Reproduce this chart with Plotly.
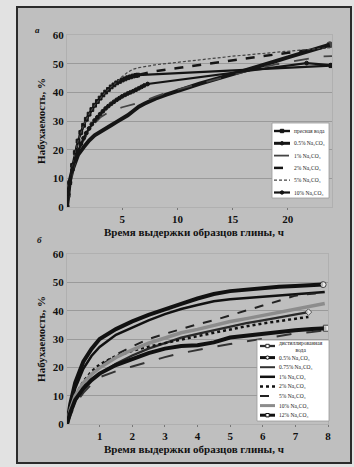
import plotly.graph_objects as go

W, H = 354, 467

# ---------------- panel "а" (hours 0..24) ----------------
t_fresh = [0, 0.1, 0.25, 0.5, 0.75, 1, 1.25, 1.5, 1.75, 2, 2.25, 2.5, 2.75, 3, 3.25, 3.5, 3.75, 4,
           4.25, 4.5, 4.75, 5, 5.25, 5.5, 5.75, 6, 6.25, 6.4, 23.9]
y_fresh = [0, 4, 8.5, 14.5, 19, 23, 26, 28.5, 30.6, 32.4, 34, 35.5, 36.8, 38, 39.1, 40.1, 41, 41.9,
           42.6, 43.3, 43.8, 44.3, 44.7, 45.1, 45.4, 45.7, 45.9, 46, 49.3]

t_a05 = [0, 0.1, 0.25, 0.5, 0.75, 1, 1.5, 2, 2.5, 3, 3.5, 4, 4.5, 5, 5.5, 6, 6.5, 7, 8, 9, 10, 12,
         14, 16, 18, 20, 22, 23.8]
y_a05 = [0, 5, 9, 13, 16, 18.2, 20.8, 23.2, 25, 26.3, 27.4, 28.5, 29.7, 30.8, 32, 33.5, 35, 36,
         37.8, 39.2, 40.5, 43, 45.2, 47.4, 49.8, 52.2, 54.5, 56.6]

t_a1 = [0, 0.5, 1, 1.5, 2, 2.5, 3, 3.5, 3.8, 5, 6.8, 8, 9.3, 11, 13, 15, 17.2, 19, 21, 23, 24]
y_a1 = [0, 12.5, 19, 23.2, 26.5, 29.2, 31.2, 32.6, 33.2, 34.8, 36.7, 38.5, 40.2, 42, 44, 46, 48.3,
        49.8, 51.2, 52.5, 52.6]

t_a2 = [0, 0.25, 0.5, 1, 1.5, 2, 2.5, 3, 3.5, 4, 4.5, 5, 5.5, 6, 6.4, 8, 10.2, 12, 15, 18, 20, 22, 23.8]
y_a2 = [0, 8.5, 14.5, 23, 28.5, 32.4, 35.5, 38, 40.1, 41.9, 43.3, 44.3, 45.1, 45.7, 46, 47.4, 48.6,
        49.6, 51.2, 52.8, 53.8, 54.8, 56]

t_a5 = [0, 0.25, 0.5, 1, 1.5, 2, 2.5, 3, 3.5, 4, 4.5, 5, 5.5, 6, 6.5, 8, 10.2, 12, 15, 19.3, 22, 23.8]
y_a5 = [0, 8.5, 14.5, 23, 28.5, 32.4, 35.5, 38, 40.1, 41.9, 43.5, 45.5, 47, 48.1, 48.6, 49.6, 50.6,
        51.5, 52.6, 54.1, 55, 55.6]

t_a10 = [0, 0.1, 0.25, 0.5, 0.75, 1, 1.25, 1.5, 1.75, 2, 2.25, 2.5, 2.75, 3, 3.25, 3.5, 3.75, 4,
         4.25, 4.5, 4.75, 5, 5.25, 5.5, 5.75, 6, 6.25, 6.5, 6.75, 7, 7.3, 21.7, 23.9]
y_a10 = [0, 4.5, 8.5, 13, 16.8, 19.5, 22, 24, 25.8, 27.4, 28.9, 30.2, 31.3, 32.4, 33.4, 34.4, 35.2,
         36, 36.7, 37.4, 38, 38.6, 39.1, 39.6, 40, 40.4, 40.9, 41.4, 41.9, 42.4, 42.9, 50.2, 49.5]

labels_a = ["пресная вода", "0.5% Na₂CO₃", "1% Na₂CO₃", "2% Na₂CO₃", "5% Na₂CO₃", "10% Na₂CO₃"]

# ---------------- panel "б" (hours 0..8) ----------------
t_bd = [0, 0.1, 0.25, 0.5, 0.75, 1, 1.5, 2, 2.5, 3, 3.5, 4, 4.5, 5, 5.5, 6, 6.5, 7, 7.4]
y_bd = [0, 4.5, 8.5, 12.5, 15.5, 17.8, 21.3, 24.2, 26.6, 28.6, 30.5, 31.8, 33.1, 34.4, 35.6, 36.6,
        37.6, 38.6, 39.5]

t_b05 = [0, 0.1, 0.25, 0.5, 0.75, 1, 1.5, 2, 2.5, 3, 3.5, 4, 4.5, 5, 5.5, 6, 6.5, 7, 7.5, 7.85]
y_b05 = [0, 7, 14.5, 22, 26.5, 30, 33.5, 36.2, 38.5, 40.6, 42.4, 44.3, 45.9, 46.9, 47.5, 48, 48.4,
         48.7, 49, 49.2]

t_b075 = [0, 0.25, 0.5, 0.75, 1, 1.5, 2, 2.5, 3, 3.5, 4, 4.5, 5, 5.5, 6, 6.5, 7, 7.5, 7.9]
y_b075 = [0, 7, 11, 14, 16.5, 18.6, 20.3, 22, 23.6, 25, 26.2, 27.2, 28.2, 29.2, 30.2, 31.2, 32,
          32.5, 33]

t_b1 = [0, 0.1, 0.25, 0.5, 0.75, 1, 1.5, 2, 2.5, 3, 3.5, 4, 4.5, 5, 5.5, 6, 6.5, 7, 7.5, 7.9]
y_b1 = [0, 6, 12.5, 19.5, 24, 27.2, 31.5, 34, 36.6, 38.8, 40.6, 42, 43.3, 44, 44.5, 45, 45.4, 45.8,
        46.2, 46.6]

t_b2 = [0, 0.1, 0.25, 0.5, 0.75, 1, 1.5, 2, 2.5, 3, 3.5, 4, 4.5, 5, 5.5, 6, 6.5, 7, 7.4]
y_b2 = [0, 5, 10, 15, 18.5, 21, 24, 25.8, 27.3, 28.6, 29.8, 31, 32.2, 33.4, 34.5, 35.5, 36.4, 37.2,
        37.8]

t_b5 = [0, 0.1, 0.25, 0.5, 0.75, 1, 1.5, 2, 2.5, 3, 3.5, 4, 4.5, 5, 5.5, 6, 6.5, 7, 7.5, 7.9]
y_b5 = [0, 3.5, 8, 13.5, 17.5, 20.2, 24.5, 27.4, 30, 31.8, 33.6, 35.2, 36.6, 38.4, 40, 41.8, 43.5,
        45.3, 46, 46.3]

t_b10 = [0, 0.1, 0.25, 0.5, 0.75, 1, 1.5, 2, 2.5, 3, 3.5, 4, 4.5, 5, 5.5, 6, 6.5, 7, 7.5, 7.9]
y_b10 = [0, 5, 10, 14.5, 17.5, 19.8, 23.5, 26.2, 28.5, 30.4, 32.2, 33.4, 34.8, 36.2, 37.2, 38.3,
         39.5, 40.6, 41.6, 42.5]

t_b12 = [0, 0.1, 0.25, 0.5, 0.75, 1, 1.5, 2, 2.5, 3, 3.5, 4, 4.5, 5, 5.5, 6, 6.5, 7, 7.5, 7.95]
y_b12 = [0, 4, 8.5, 12.5, 15.5, 17.8, 20.8, 23, 25, 26.6, 27.5, 27.8, 28.8, 30.5, 31.2, 32, 32.6,
         33.1, 33.5, 33.8]

labels_b = ["дистиллированная<br>вода", "0.5% Na₂CO₃", "0.75% Na₂CO₃", "1% Na₂CO₃", "2% Na₂CO₃",
            "5% Na₂CO₃", "10% Na₂CO₃", "12% Na₂CO₃"]

y_ticks = [0, 10, 20, 30, 40, 50, 60]
x_ticks_a = [5, 10, 15, 20]
x_ticks_b = [1, 2, 3, 4, 5, 6, 7, 8]
x_title = "Время выдержки образцов глины, ч"
y_title = "Набухаемость, %"

SERIF = "Liberation Serif"


def end_marker(n, size):
    return [0] * (n - 1) + [size]


styles_a = [
    dict(color="#151515", width=2.4, dash="solid", symbol="square", size=3.8, fill="#151515"),
    dict(color="#151515", width=4, dash="solid", symbol="circle", size=end_marker(len(t_a05), 6), fill="#151515"),
    dict(color="#444444", width=1.8, dash="longdash", symbol=None),
    dict(color="#151515", width=2.5, dash="dash", symbol=None),
    dict(color="#444444", width=1.2, dash="3px,2px", symbol=None),
    dict(color="#151515", width=2.2, dash="solid", symbol="circle", size=3.8, fill="#151515"),
]
data_a = [(t_fresh, y_fresh), (t_a05, y_a05), (t_a1, y_a1), (t_a2, y_a2), (t_a5, y_a5), (t_a10, y_a10)]

styles_b = [
    dict(color="#2a2a2a", width=2.3, dash="solid", symbol="diamond", size=end_marker(len(t_bd), 5), fill="white"),
    dict(color="#111111", width=4, dash="solid", symbol="circle", size=end_marker(len(t_b05), 6), fill="white"),
    dict(color="#333333", width=2, dash="longdash", symbol=None),
    dict(color="#111111", width=2.5, dash="solid", symbol=None),
    dict(color="#111111", width=2.5, dash="dot", symbol=None),
    dict(color="#222222", width=2, dash="dash", symbol=None),
    dict(color="#8c8c8c", width=3.5, dash="solid", symbol=None),
    dict(color="#111111", width=4, dash="solid", symbol="square", size=end_marker(len(t_b12), 6), fill="white"),
]
data_b = [(t_bd, y_bd), (t_b05, y_b05), (t_b075, y_b075), (t_b1, y_b1), (t_b2, y_b2),
          (t_b5, y_b5), (t_b10, y_b10), (t_b12, y_b12)]

fig = go.Figure()


def add_traces(data, styles, labels, xa, ya):
    for (t, y), st, lab in zip(data, styles, labels):
        kw = dict(x=t, y=y, xaxis=xa, yaxis=ya, name=lab.replace("<br>", " "), showlegend=False,
                  line=dict(color=st["color"], width=st["width"], dash=st["dash"]))
        if st["symbol"]:
            kw["mode"] = "lines+markers"
            kw["marker"] = dict(symbol=st["symbol"], size=st["size"], color=st["fill"],
                                line=dict(color=st["color"], width=1))
        else:
            kw["mode"] = "lines"
        fig.add_trace(go.Scatter(**kw))


add_traces(data_a, styles_a, labels_a, "x", "y")
add_traces(data_b, styles_b, labels_b, "x2", "y2")


def px(x):
    return x / W


def py(y):
    return 1 - y / H


shapes = []
annotations = []

# outer frame
shapes.append(dict(type="rect", xref="paper", yref="paper", x0=px(17), x1=px(351), y0=py(463), y1=py(7),
                   fillcolor="#bfbfbf", line=dict(color="#2b2b2b", width=2), layer="below"))


def manual_legend(box, first_y, step, sym_x0, sym_x1, text_x, styles, labels, extra_first=0):
    x0, y0, x1, y1 = box
    shapes.append(dict(type="rect", xref="paper", yref="paper", x0=px(x0), x1=px(x1), y0=py(y1), y1=py(y0),
                       fillcolor="white", line=dict(color="#999999", width=0.8), layer="above"))
    yy = first_y
    for i, (st, lab) in enumerate(zip(styles, labels)):
        shapes.append(dict(type="line", xref="paper", yref="paper", x0=px(sym_x0), x1=px(sym_x1),
                           y0=py(yy), y1=py(yy), layer="above",
                           line=dict(color=st["color"], width=min(st["width"], 3), dash=st["dash"])))
        if st["symbol"]:
            cx = (sym_x0 + sym_x1) / 2
            r = 1.7
            shapes.append(dict(type="circle" if st["symbol"] == "circle" else "rect",
                               xref="paper", yref="paper", x0=px(cx - r), x1=px(cx + r),
                               y0=py(yy + r), y1=py(yy - r), layer="above",
                               fillcolor=st["fill"], line=dict(color=st["color"], width=1)))
        annotations.append(dict(xref="paper", yref="paper", x=px(text_x), y=py(yy), xanchor="left",
                                yanchor="middle", text=lab, showarrow=False,
                                font=dict(family=SERIF, size=5.5, color="#222")))
        yy += step + (extra_first if i == 0 else 0)


manual_legend((272, 123, 329, 198), 131, 12.3, 274, 290, 292, styles_a, labels_a)
manual_legend((257, 340, 329, 421), 346, 9.6, 260, 275, 277, styles_b, labels_b, extra_first=2)

# panel letters
annotations.append(dict(xref="paper", yref="paper", x=px(33), y=py(23), text="<b><i>а</i></b>",
                        showarrow=False, font=dict(family=SERIF, size=9, color="#111")))
annotations.append(dict(xref="paper", yref="paper", x=px(35), y=py(240), text="<b><i>б</i></b>",
                        showarrow=False, font=dict(family=SERIF, size=9, color="#111")))

titlefont = dict(family=SERIF, size=11, color="#111", weight="bold")
# x-axis titles
annotations.append(dict(xref="paper", yref="paper", x=px(194), y=py(232), text=x_title, showarrow=False,
                        xanchor="center", yanchor="middle", font=titlefont))
annotations.append(dict(xref="paper", yref="paper", x=px(194), y=py(449), text=x_title, showarrow=False,
                        xanchor="center", yanchor="middle", font=titlefont))

tickfont = dict(family=SERIF, size=11, color="#111", weight="bold")

common_x = dict(showgrid=False, zeroline=False, showline=True, linecolor="#b0b0b0", mirror=True,
                ticks="outside", ticklen=2, tickcolor="#777", tickfont=tickfont, automargin=False)
common_y = dict(showgrid=True, gridcolor="#9a9a9a", gridwidth=1, zeroline=False, showline=True,
                linecolor="#b0b0b0", mirror=True, ticks="", tickfont=tickfont, range=[0, 60],
                tickvals=y_ticks, automargin=False)

fig.update_layout(
    width=W, height=H,
    margin=dict(l=0, r=0, t=0, b=0, autoexpand=False),
    paper_bgcolor="#e2e2e2",
    plot_bgcolor="white",
    showlegend=False,
    xaxis=dict(domain=[px(67), px(332)], range=[0, 24], tickvals=x_ticks_a, anchor="y", **common_x),
    yaxis=dict(domain=[py(207), py(35)], anchor="x",
               title=dict(text=y_title, font=titlefont, standoff=4), **common_y),
    xaxis2=dict(domain=[px(67), px(328)], range=[0, 8], tickvals=x_ticks_b, anchor="y2", **common_x),
    yaxis2=dict(domain=[py(424), py(254)], anchor="x2",
                title=dict(text=y_title, font=titlefont, standoff=4), **common_y),
    shapes=shapes,
    annotations=annotations,
)

fig.write_html("out.html", config={"displayModeBar": False},
               post_script="document.body.style.margin='0px';")
